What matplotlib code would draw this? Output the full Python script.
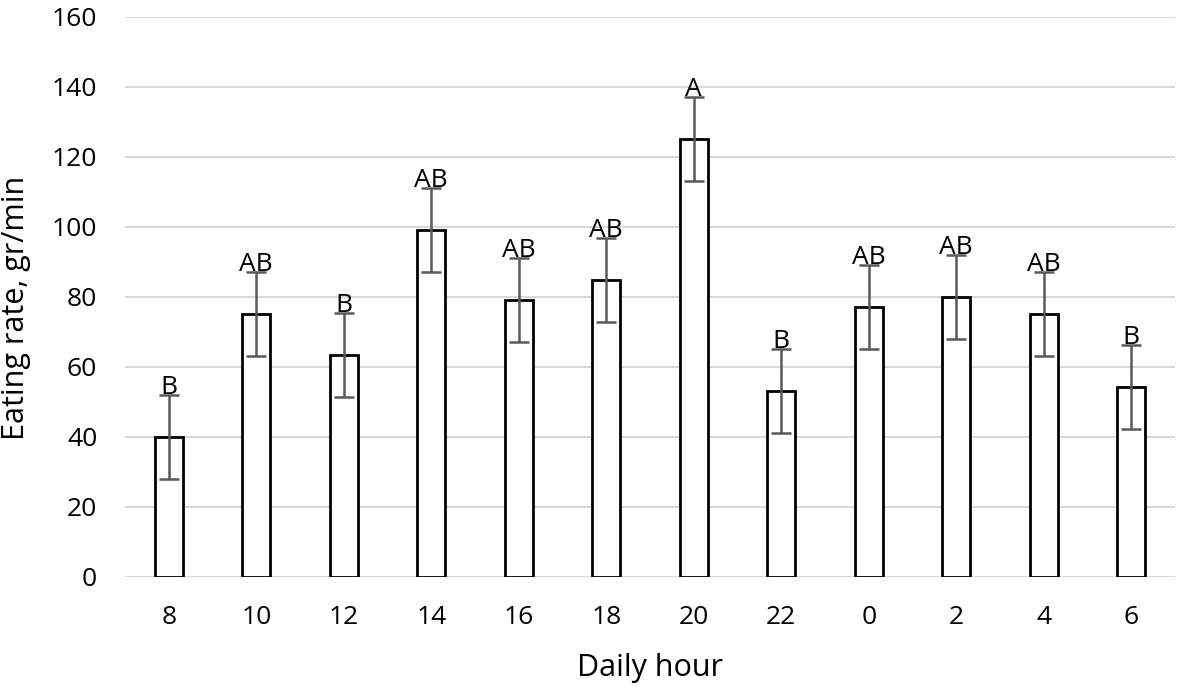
import matplotlib
matplotlib.use('Agg')
import matplotlib.pyplot as plt
import numpy as np

hours = ['8', '10', '12', '14', '16', '18', '20', '22', '0', '2', '4', '6']
rate = [40, 75, 63.5, 99, 79, 84.7, 125, 53, 77, 80, 75, 54.3]
err = [12, 12, 12, 12, 12, 12, 12, 12, 12, 12, 12, 12]
letters = ['B', 'AB', 'B', 'AB', 'AB', 'AB', 'A', 'B', 'AB', 'AB', 'AB', 'B']

plt.rcParams['font.family'] = ['Open Sans', 'DejaVu Sans']

fig = plt.figure(figsize=(11.85, 6.9), dpi=100)
ax = fig.add_axes([0.1055, 0.164, 0.886, 0.8115])

x = np.arange(len(hours))
ax.bar(x, rate, width=0.32, color='white', edgecolor='black', linewidth=2, zorder=3)
ax.errorbar(x, rate, yerr=err, fmt='none', ecolor='#595959', elinewidth=1.8,
            capsize=7, capthick=1.8, zorder=4)

for xi, v, e, t in zip(x, rate, err, letters):
    ax.text(xi, v + e + 0.3, t, ha='center', va='baseline', fontsize=19, zorder=5)

ax.set_xlim(-0.5, len(hours) - 0.5)
ax.set_ylim(0, 160)
ax.set_yticks(np.arange(0, 161, 20))
ax.set_xticks(x)
ax.set_xticklabels(hours)
ax.tick_params(axis='both', length=0, labelsize=19, colors='black')
ax.tick_params(axis='x', pad=20)
ax.tick_params(axis='y', pad=20)
ax.yaxis.grid(True, color='#d9d9d9', linewidth=1.5, zorder=0)
ax.set_axisbelow(True)
for s in ax.spines.values():
    s.set_visible(False)

ax.set_xlabel('Daily hour', fontsize=22, labelpad=17)
ax.set_ylabel('Eating rate, gr/min', fontsize=22)
ax.yaxis.set_label_coords(-0.09, 0.48)

fig.savefig('out.png', dpi=100)
